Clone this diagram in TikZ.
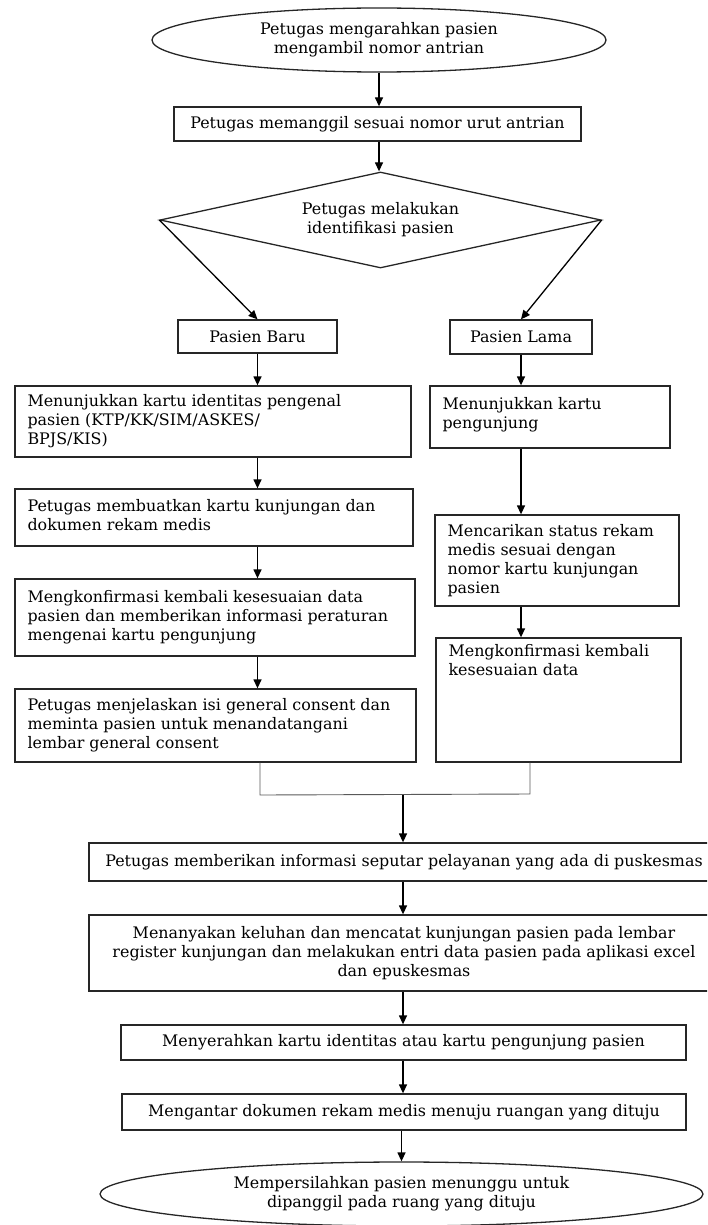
\documentclass[tikz,border=0pt]{standalone}
\usepackage{fontspec}
\setmainfont{DejaVu Serif}
\usetikzlibrary{shapes.geometric,arrows.meta}
\begin{document}
\begin{tikzpicture}[x=1pt,y=-1pt,
  every node/.style={font=\fontsize{15.9pt}{19pt}\selectfont},
  box/.style={draw=black!85, line width=1.3pt, inner sep=0pt, rectangle},
  txt/.style={align=left, inner sep=0pt},
  ctxt/.style={align=center, inner sep=0pt},
  arr/.style={-{Triangle[length=9pt,width=8pt]}, line width=1.3pt},
  merge/.style={draw=black!65, line width=0.9pt},
]
\useasboundingbox (0,0) rectangle (707,1225);
\clip (0,0) rectangle (707,1225);

% top part
\node[box, ellipse, minimum width=454pt, minimum height=64pt, align=center] (E1) at (379,40) {Petugas mengarahkan pasien\\mengambil nomor antrian};
\node[box, minimum width=407pt, minimum height=34pt] (Q) at (377.5,124) {Petugas memanggil sesuai nomor urut antrian};
\node[box, diamond, aspect=4.6, minimum width=441pt, minimum height=96pt, align=center] (D) at (380.5,220) {Petugas melakukan\\identifikasi pasien};
\node[box, minimum width=159pt, minimum height=33pt] (PB) at (257.5,336.5) {Pasien Baru};
\node[box, minimum width=142pt, minimum height=34pt] (PL) at (521,337) {Pasien Lama};

% left column
\node[box, minimum width=396pt, minimum height=71pt] (B1) at (213,421.5) {};
\node[txt, anchor=west] (B1t) at ([xshift=13pt]B1.west) {Menunjukkan kartu identitas pengenal\\pasien (KTP/KK/SIM/ASKES/\\BPJS/KIS)};
\node[box, minimum width=398pt, minimum height=57pt] (B2) at (214,517.5) {};
\node[txt, anchor=west] (B2t) at ([xshift=13pt,yshift=2pt]B2.west) {Petugas membuatkan kartu kunjungan dan\\dokumen rekam medis};
\node[box, minimum width=400pt, minimum height=77pt] (B3) at (215,617.5) {};
\node[txt, anchor=west] (B3t) at ([xshift=13pt]B3.west) {Mengkonfirmasi kembali kesesuaian data\\pasien dan memberikan informasi peraturan\\mengenai kartu pengunjung};
\node[box, minimum width=401pt, minimum height=73pt] (B4) at (215.5,725.5) {};
\node[txt, anchor=west] (B4t) at ([xshift=13pt]B4.west) {Petugas menjelaskan isi general consent dan\\meminta pasien untuk menandatangani\\lembar general consent};

% right column
\node[box, minimum width=240pt, minimum height=62pt] (L1) at (550,417) {};
\node[txt, anchor=west] (L1t) at ([xshift=13pt,yshift=2pt]L1.west) {Menunjukkan kartu\\pengunjung};
\node[box, minimum width=244pt, minimum height=91pt] (L2) at (557,560.5) {};
\node[txt, anchor=west] (L2t) at ([xshift=13pt]L2.west) {Mencarikan status rekam\\medis sesuai dengan\\nomor kartu kunjungan\\pasien};
\node[box, minimum width=245pt, minimum height=124pt] (L3) at (558.5,700) {};
\node[txt, anchor=north west] (L3t) at ([xshift=13pt,yshift=-7pt]L3.north west) {Mengkonfirmasi kembali\\kesesuaian data};

% bottom part
\node[box, minimum width=630pt, minimum height=38pt] (C1) at (404,862) {};
\node[ctxt] (C1t) at (C1) {Petugas memberikan informasi seputar pelayanan yang ada di puskesmas};
\node[box, minimum width=630pt, minimum height=76pt] (C2) at (404,953) {};
\node[ctxt] (C2t) at (C2) {Menanyakan keluhan dan mencatat kunjungan pasien pada lembar\\register kunjungan dan melakukan entri data pasien pada aplikasi excel\\dan epuskesmas};
\node[box, minimum width=565pt, minimum height=35pt] (C3) at (403.5,1042.5) {Menyerahkan kartu identitas atau kartu pengunjung pasien};
\node[box, minimum width=564pt, minimum height=36pt] (C4) at (404,1112) {Mengantar dokumen rekam medis menuju ruangan yang dituju};
\node[box, ellipse, minimum width=603pt, minimum height=64pt, align=center] (E2) at (401.5,1194) {Mempersilahkan pasien menunggu untuk\\dipanggil pada ruang yang dituju};

% connectors
\draw[arr] (E1.south) -- (Q.north -| E1.south);
\draw[arr] (Q.south -| E1.south) -- (D.north -| E1.south);
\draw[arr] (D.west) -- (PB.north);
\draw[arr] (D.east) -- (PL.north);
\draw[arr] (PB.south) -- (B1.north -| PB.south);
\draw[arr] (B1.south -| PB.south) -- (B2.north -| PB.south);
\draw[arr] (B2.south -| PB.south) -- (B3.north -| PB.south);
\draw[arr] (B3.south -| PB.south) -- (B4.north -| PB.south);
\draw[arr] (PL.south) -- (L1.north -| PL.south);
\draw[arr] (L1.south -| PL.south) -- (L2.north -| PL.south);
\draw[arr] (L2.south -| PL.south) -- (L3.north -| PL.south);

\coordinate (mL) at (260,795);
\coordinate (mR) at (530,794);
\coordinate (mM) at (403,794.5);
\draw[merge] (B4.south -| mL) -- (mL) -- (mR) -- (L3.south -| mR);
\draw[arr] (mM) -- (C1.north -| mM);
\draw[arr] (C1.south -| mM) -- (C2.north -| mM);
\draw[arr] (C2.south -| mM) -- (C3.north -| mM);
\draw[arr] (C3.south -| mM) -- (C4.north -| mM);
\draw[arr] (C4.south -| E2.north) -- (E2.north);
\end{tikzpicture}
\end{document}
